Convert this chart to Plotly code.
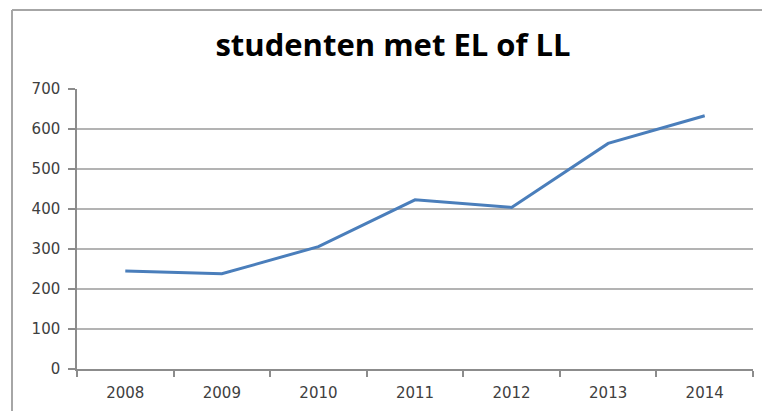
import plotly.graph_objects as go

years = ["2008", "2009", "2010", "2011", "2012", "2013", "2014"]
students = [245, 238, 306, 423, 404, 564, 633]
y_ticks = [0, 100, 200, 300, 400, 500, 600, 700]

W, H = 762, 411
L, R, T, B = 77, 9, 89, 42
pw, ph = W - L - R, H - T - B

def px(x):
    return (x - L) / pw

def py(y):
    return (H - B - y) / ph

tick_font = dict(family="DejaVu Sans", size=15, color="#404040")

fig = go.Figure()
fig.add_trace(go.Scatter(
    x=years, y=students, mode="lines",
    line=dict(color="#4a7ebb", width=3),
    hoverinfo="x+y",
))

fig.update_layout(
    width=W, height=H,
    margin=dict(l=L, r=R, t=T, b=B, autoexpand=False),
    paper_bgcolor="white", plot_bgcolor="white",
    showlegend=False,
    title=dict(
        text="<b>studenten met EL of LL</b>",
        x=393 / W, xanchor="center",
        y=1 - 45 / H, yanchor="middle",
        font=dict(family="Open Sans", size=31, color="#000000"),
    ),
    xaxis=dict(
        type="category",
        range=[-0.5, 6.5],
        tickson="boundaries",
        ticks="outside", ticklen=6, tickcolor="#8c8c8c", tickwidth=1.5,
        showline=True, linecolor="#8c8c8c", linewidth=1.5,
        showgrid=False,
        tickfont=tick_font,
        ticklabelstandoff=9,
        automargin=False,
        fixedrange=True,
    ),
    yaxis=dict(
        range=[0, 700],
        tickvals=y_ticks,
        ticks="outside", ticklen=7, tickcolor="#8c8c8c", tickwidth=1.5,
        showline=True, linecolor="#8c8c8c", linewidth=1.5,
        showgrid=True, gridcolor="#b3b3b3", gridwidth=1.5,
        zeroline=False,
        tickfont=tick_font,
        ticklabelstandoff=5,
        automargin=False,
        fixedrange=True,
    ),
    shapes=[
        dict(type="line", xref="paper", yref="paper",
             x0=px(12), x1=px(W + 5), y0=py(10), y1=py(10),
             line=dict(color="#a6a6a6", width=2)),
        dict(type="line", xref="paper", yref="paper",
             x0=px(12), x1=px(12), y0=py(10), y1=py(H + 5),
             line=dict(color="#a6a6a6", width=2)),
    ],
)

fig.write_html(
    "out.html",
    config={"displayModeBar": False},
    post_script="document.body.style.margin='0';document.body.style.overflow='hidden';",
)
